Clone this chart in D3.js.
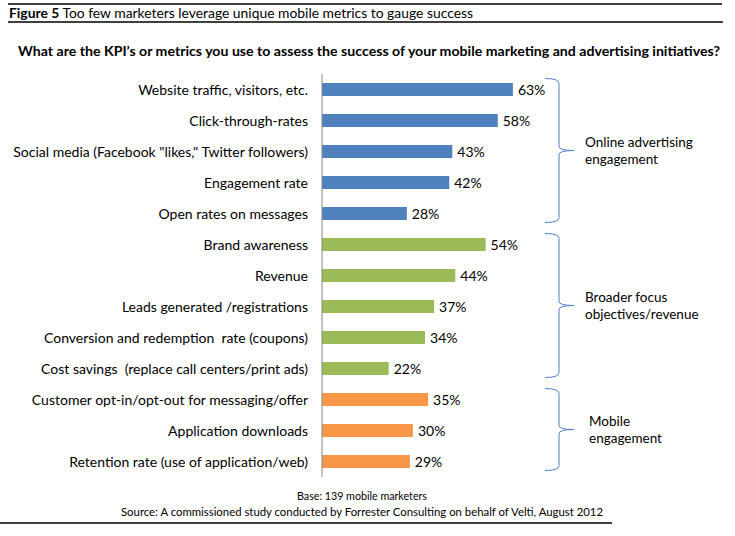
<!DOCTYPE html>
<html>
<head>
<meta charset="utf-8">
<script src="https://cdn.jsdelivr.net/npm/d3@7"></script>
<style>
  body { margin: 0; background: #fff; }
  svg { display: block; font-family: Lato, "Noto Sans", sans-serif; }
  text { white-space: pre; }
</style>
</head>
<body>
<div id="chart"></div>
<script>
// values
const categories = [
  "Website traffic, visitors, etc.",
  "Click-through-rates",
  "Social media (Facebook \"likes,\" Twitter followers)",
  "Engagement rate",
  "Open rates on messages",
  "Brand awareness",
  "Revenue",
  "Leads generated /registrations",
  "Conversion and redemption  rate (coupons)",
  "Cost savings  (replace call centers/print ads)",
  "Customer opt-in/opt-out for messaging/offer",
  "Application downloads",
  "Retention rate (use of application/web)"
];
const values = [63, 58, 43, 42, 28, 54, 44, 37, 34, 22, 35, 30, 29];
const groupOf = [0, 0, 0, 0, 0, 1, 1, 1, 1, 1, 2, 2, 2];
const groupNames = [
  ["Online advertising", "engagement"],
  ["Broader focus", "objectives/revenue"],
  ["Mobile", "engagement"]
];
const groupColors = ["#4f81bd", "#9bbb59", "#f79646"];

const width = 735, height = 536;
const svg = d3.select("#chart").append("svg")
    .attr("width", width)
    .attr("height", height);

// header rules + title
svg.append("line").attr("x1", 8).attr("x2", 722).attr("y1", 4).attr("y2", 4)
    .attr("stroke", "#000").attr("stroke-width", 1.5);
svg.append("line").attr("x1", 8).attr("x2", 723).attr("y1", 22).attr("y2", 22)
    .attr("stroke", "#000").attr("stroke-width", 1.5);

const title = svg.append("text")
    .attr("x", 9).attr("y", 18)
    .attr("font-size", 14)
    .attr("textLength", 464).attr("lengthAdjust", "spacingAndGlyphs");
title.append("tspan").attr("font-weight", "bold").text("Figure 5");
title.append("tspan").text(" Too few marketers leverage unique mobile metrics to gauge success");

svg.append("text")
    .attr("x", 18).attr("y", 56)
    .attr("font-size", 13).attr("font-weight", "bold")
    .attr("textLength", 702).attr("lengthAdjust", "spacingAndGlyphs")
    .text("What are the KPI\u2019s or metrics you use to assess the success of your mobile marketing and advertising initiatives?");

// scales
const x = d3.scaleLinear().domain([0, 100]).range([322, 625]);
const y = d3.scaleBand().domain(d3.range(categories.length)).range([74, 477]).paddingInner(0.58).paddingOuter(0.29);

const rows = svg.append("g").selectAll("g")
  .data(categories.map((c, i) => ({c, v: values[i], g: groupOf[i], i})))
  .join("g");

rows.append("rect")
    .attr("x", x(0))
    .attr("y", d => y(d.i))
    .attr("width", d => x(d.v) - x(0))
    .attr("height", y.bandwidth())
    .attr("fill", d => groupColors[d.g]);

rows.append("text")
    .attr("x", 308)
    .attr("y", d => y(d.i) + y.bandwidth() / 2 + 5)
    .attr("text-anchor", "end")
    .attr("font-size", 14)
    .attr("fill", "#000")
    .text(d => d.c);

rows.append("text")
    .attr("x", d => x(d.v) + 5)
    .attr("y", d => y(d.i) + y.bandwidth() / 2 + 5)
    .attr("font-size", 14)
    .attr("fill", "#000")
    .text(d => d.v + "%");

// category axis line
svg.append("line")
    .attr("x1", x(0)).attr("x2", x(0))
    .attr("y1", 74).attr("y2", 477)
    .attr("stroke", "#868686").attr("stroke-width", 1);

// braces
function bracePath(y0, y1) {
  const xl = 545, xs = 559, xt = 574, ym = (y0 + y1) / 2;
  return `M${xl},${y0} Q${xs},${y0} ${xs},${y0 + 5} L${xs},${ym - 4} Q${xs},${ym} ${xt},${ym}` +
         ` Q${xs},${ym} ${xs},${ym + 4} L${xs},${y1 - 5} Q${xs},${y1} ${xl},${y1}`;
}

groupNames.forEach((lines, g) => {
  const idx = d3.range(categories.length).filter(i => groupOf[i] === g);
  const top = y(idx[0]) + y.bandwidth() / 2 - 11;
  const bot = y(idx[idx.length - 1]) + y.bandwidth() / 2 + 9;
  svg.append("path")
      .attr("d", bracePath(top, bot))
      .attr("fill", "none")
      .attr("stroke", "#4f81bd")
      .attr("stroke-width", 1);
  const ym = (top + bot) / 2;
  svg.append("text")
      .attr("font-size", 13.5)
      .selectAll("tspan").data(lines).join("tspan")
      .attr("x", g === 2 ? 589 : 585)
      .attr("y", (d, k) => ym - 4 + k * 17)
      .text(d => d);
});

// footer
svg.append("text")
    .attr("x", 362).attr("y", 500)
    .attr("text-anchor", "middle").attr("font-size", 11.5)
    .attr("textLength", 130).attr("lengthAdjust", "spacingAndGlyphs")
    .text("Base: 139 mobile marketers");
svg.append("text")
    .attr("x", 362).attr("y", 516)
    .attr("text-anchor", "middle").attr("font-size", 11.5)
    .attr("textLength", 482).attr("lengthAdjust", "spacingAndGlyphs")
    .text("Source: A commissioned study conducted by Forrester Consulting on behalf of Velti, August 2012");
svg.append("line").attr("x1", 0).attr("x2", 612).attr("y1", 523).attr("y2", 523)
    .attr("stroke", "#000").attr("stroke-width", 1.5);
</script>
</body>
</html>
